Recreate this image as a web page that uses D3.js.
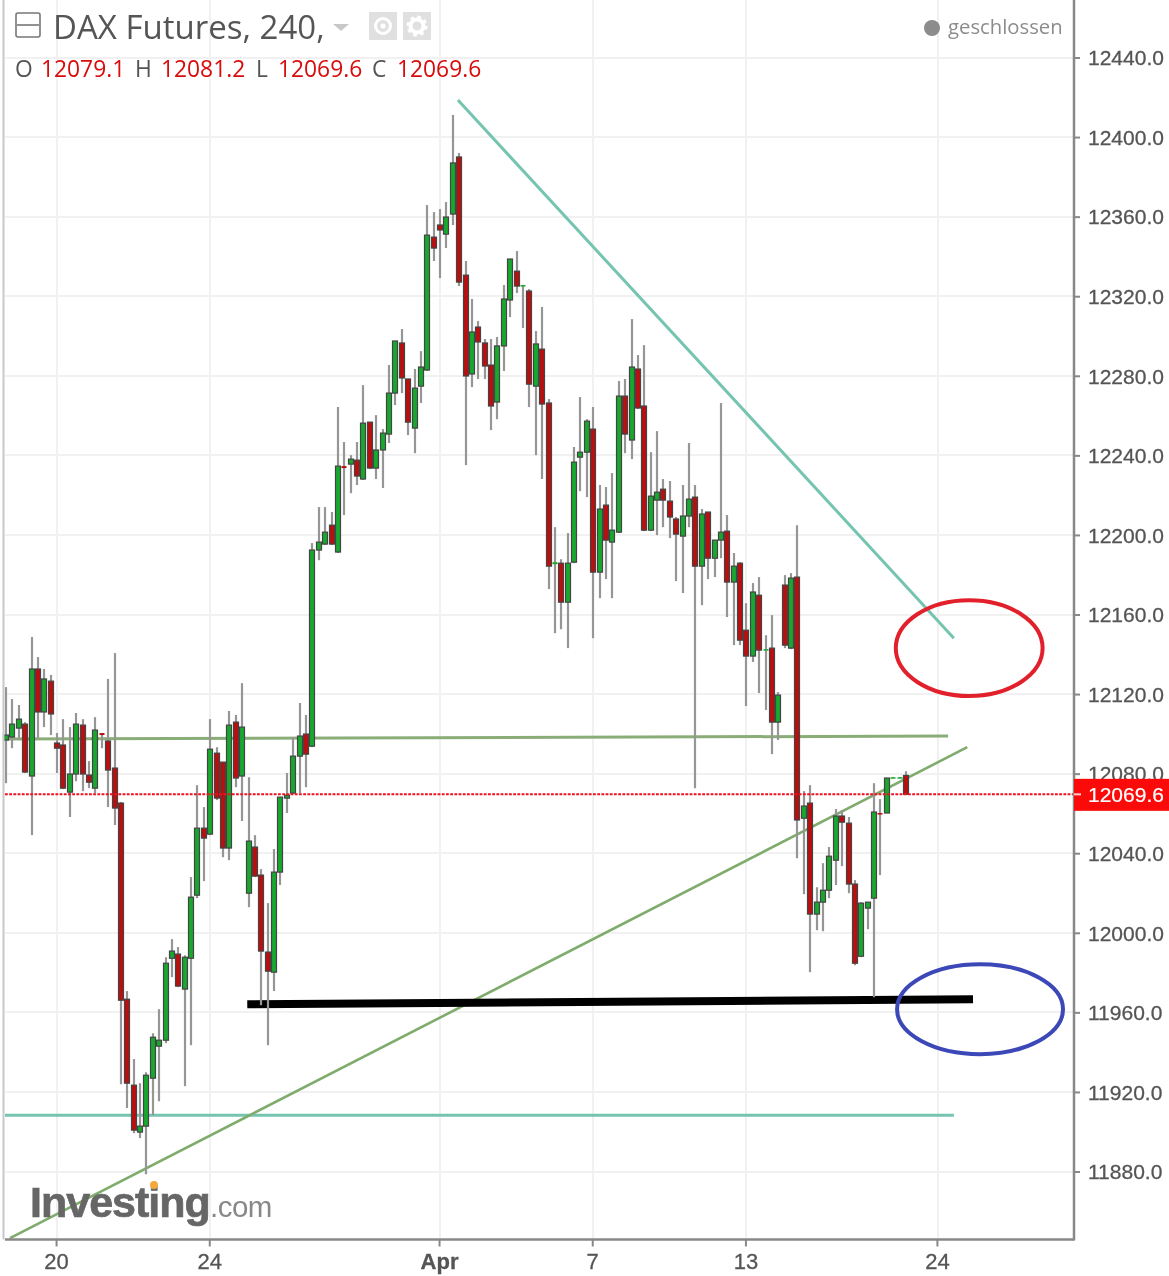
<!DOCTYPE html>
<html><head><meta charset="utf-8">
<script src="https://cdnjs.cloudflare.com/ajax/libs/d3/7.8.5/d3.min.js"></script>
<style>
html,body{margin:0;padding:0;background:#fff;overflow:hidden}
svg{display:block;filter:blur(0.5px)}
text{font-family:"Liberation Sans",sans-serif}
</style></head><body><div id="chart"></div>
<script>
const opens=[12096.9,12098.4,12102.9,12104.9,12078.8,12132.6,12111.0,12126.5,12095.4,12094.4,12070.7,12079.8,12104.4,12079.3,12072.7,12100.4,12096.4,12082.8,12065.2,11966.6,11923.4,11899.8,11902.8,11926.9,11943.0,11946.0,11987.2,11989.3,11971.7,11987.2,12018.9,12052.6,12049.6,12090.3,12085.8,12042.6,12105.9,12078.8,12019.9,12043.1,12029.0,11990.3,11980.2,12030.5,12067.7,12070.2,12088.8,12099.9,12093.8,12192.4,12195.4,12204.9,12191.4,12234.6,12235.6,12237.6,12228.1,12256.7,12233.6,12242.7,12250.7,12271.3,12296.5,12278.4,12253.7,12274.8,12282.9,12349.7,12355.8,12351.2,12361.3,12390.0,12330.6,12280.9,12304.5,12296.5,12285.4,12266.8,12295.0,12318.1,12332.6,12325.1,12322.6,12274.8,12293.4,12266.3,12185.3,12185.8,12166.2,12186.3,12239.1,12241.6,12253.2,12181.3,12215.0,12196.4,12201.4,12269.8,12247.7,12283.4,12264.8,12202.4,12217.5,12223.0,12217.0,12208.0,12199.4,12209.5,12219.0,12184.3,12211.5,12188.3,12197.4,12201.9,12176.3,12185.8,12152.1,12139.1,12169.7,12142.1,12143.1,12105.9,12174.8,12143.1,12178.8,12057.6,12065.2,12009.4,12015.4,12021.4,12036.5,12058.7,12055.1,12024.5,11988.2,12012.4,12017.4,12060.2,12060.2,12077.8,12078.0,12079.1];
const highs=[12123.5,12117.5,12114.5,12105.9,12148.7,12138.6,12132.6,12129.6,12100.4,12107.4,12103.4,12110.5,12107.4,12086.3,12108.4,12100.4,12127.6,12140.6,12065.7,11970.7,11936.5,11924.4,11929.9,11949.5,11961.6,11987.7,11996.8,11992.8,11988.7,12028.0,12074.2,12063.2,12107.4,12093.3,12085.8,12111.5,12109.5,12125.5,12078.2,12049.1,12032.0,12014.9,12042.1,12068.2,12080.3,12098.4,12115.5,12109.5,12195.9,12214.0,12214.0,12211.5,12264.3,12246.7,12240.1,12246.7,12275.3,12256.7,12260.2,12253.2,12285.4,12297.5,12303.5,12278.4,12283.4,12292.4,12365.8,12362.3,12363.8,12367.3,12411.1,12392.0,12337.7,12318.6,12307.5,12298.5,12298.5,12299.5,12325.6,12338.7,12342.7,12325.6,12323.6,12302.5,12314.6,12268.3,12203.9,12187.8,12200.9,12244.2,12269.3,12258.2,12264.3,12225.1,12224.1,12231.1,12277.4,12278.4,12308.5,12290.4,12295.4,12241.6,12252.2,12228.1,12227.1,12209.0,12225.1,12246.2,12225.1,12213.0,12211.5,12197.4,12266.3,12210.0,12190.9,12186.3,12165.7,12175.8,12178.8,12149.6,12159.7,12121.0,12179.8,12180.8,12204.9,12071.2,12074.2,12022.9,12035.0,12043.1,12062.2,12061.7,12058.2,12026.5,12015.4,12015.4,12075.2,12067.2,12077.8,12078.2,12078.2,12081.2];
const lows=[12075.2,12092.8,12096.9,12080.3,12049.1,12097.9,12103.4,12099.4,12080.3,12072.2,12058.2,12076.2,12071.2,12072.7,12070.2,12092.8,12063.2,12054.2,11923.9,11911.9,11899.3,11896.8,11878.6,11908.3,11915.3,11944.5,11977.7,11972.7,11922.9,11943.5,12017.4,12026.0,12049.1,12066.7,12038.0,12036.5,12073.2,12056.2,12012.9,12028.0,11963.6,11943.5,11970.7,12024.0,12060.2,12069.7,12070.2,12073.2,12093.3,12187.3,12194.9,12194.9,12190.9,12210.0,12221.0,12225.1,12227.6,12233.1,12228.1,12223.6,12246.2,12265.3,12271.3,12250.2,12241.1,12266.3,12282.4,12337.7,12329.1,12344.2,12355.8,12325.1,12235.1,12274.3,12278.4,12278.4,12252.7,12258.2,12282.4,12309.5,12321.6,12304.0,12264.3,12240.1,12228.1,12172.8,12150.6,12152.6,12143.1,12185.8,12222.0,12219.0,12148.1,12168.2,12177.8,12168.2,12200.9,12241.1,12238.1,12263.3,12201.9,12201.9,12199.9,12203.9,12198.4,12176.8,12170.8,12203.9,12072.7,12164.7,12177.8,12178.8,12188.3,12158.7,12144.6,12144.6,12114.0,12136.1,12120.5,12112.0,12089.8,12096.9,12143.1,12142.6,12037.5,12019.4,11980.2,12001.3,12000.8,12017.4,12024.0,12033.5,12019.9,11983.7,11987.7,12001.8,11967.6,12029.0,12060.2,12077.8,12077.8,12069.6];
const closes=[12099.4,12104.9,12107.4,12080.8,12132.6,12111.0,12127.6,12110.0,12092.8,12072.7,12079.8,12104.9,12079.8,12075.7,12101.9,12099.4,12081.8,12062.7,11966.1,11924.4,11900.8,11902.8,11928.4,11947.5,11946.0,11984.7,11990.8,11973.2,11987.7,12017.9,12052.6,12047.6,12092.3,12067.7,12042.6,12104.4,12077.8,12103.4,12046.1,12028.5,11990.8,11980.7,12030.5,12068.2,12069.2,12088.8,12098.9,12089.8,12192.4,12196.4,12201.4,12195.4,12234.6,12233.6,12238.1,12229.6,12256.2,12233.6,12242.7,12251.2,12271.3,12297.5,12278.9,12256.7,12273.8,12284.4,12350.7,12344.2,12353.3,12359.8,12387.0,12327.1,12279.9,12302.0,12297.0,12284.9,12264.8,12295.0,12318.6,12338.7,12325.1,12325.6,12275.8,12296.0,12265.8,12184.3,12186.3,12166.2,12185.8,12236.6,12241.6,12257.2,12181.3,12213.0,12197.4,12202.4,12269.8,12250.7,12284.4,12263.8,12202.4,12219.5,12221.5,12217.5,12209.0,12200.4,12209.5,12218.0,12184.3,12210.5,12188.3,12197.4,12201.4,12176.3,12184.3,12147.1,12139.1,12171.3,12142.1,12142.6,12105.9,12119.5,12144.6,12178.3,12056.7,12063.7,12009.4,12015.4,12021.4,12038.5,12058.7,12055.6,12024.5,11984.7,12014.9,12015.4,12060.7,12059.7,12077.8,12078.2,12078.2,12069.6];

const priceTicks=[11880,11920,11960,12000,12040,12080,12120,12160,12200,12240,12280,12320,12360,12400,12440];
const dateTickIndex=[8,32,68,92,116,146];
const dateTickLabels=["20","24","Apr","7","13","24"];

// drawn trend lines [index, price, index, price]
const tealFalling=[70.8,12418.6,148.5,12148.1];
const tealFlat=[-0.16,11908.3,148.5,11908.3];
const greenFlat=[-0.16,12097.4,147.6,12098.9];
const greenRising=[0.63,11846.5,150.6,12093.3];
const blackSupport=[37.8,11964.1,151.5,11966.6];
// hand-drawn circles [index, price, index radius, price radius]
const redCircle=[150.9,12143.1,11.5,24.1];
const blueCircle=[152.6,11961.6,13.0,22.6];

const lastPrice=12069.6;
const W=1169,H=1276,axisX=1074,axisY=1239.5;
const x=d3.scaleLinear().domain([0,141]).range([6,906]);
const y=d3.scaleLinear().domain([11880,12440]).range([1171.5,57.5]);
const svg=d3.select("#chart").append("svg").attr("width",W).attr("height",H);
svg.append("rect").attr("width",W).attr("height",H).attr("fill","#fff");

// grid
svg.append("g").selectAll("line").data(priceTicks).join("line")
 .attr("x1",5).attr("x2",axisX).attr("y1",d=>Math.round(y(d))).attr("y2",d=>Math.round(y(d)))
 .attr("stroke","#f1f1f1").attr("stroke-width",2);
svg.append("g").selectAll("line").data(dateTickIndex).join("line")
 .attr("x1",d=>Math.round(x(d))).attr("x2",d=>Math.round(x(d))).attr("y1",0).attr("y2",axisY)
 .attr("stroke","#f1f1f1").attr("stroke-width",2);

// trend lines
const seg=(a,c,w)=>svg.append("line").attr("x1",x(a[0])).attr("y1",y(a[1])).attr("x2",x(a[2])).attr("y2",y(a[3]))
 .attr("stroke",c).attr("stroke-width",w);
seg(greenFlat,"#8aad78",3);
seg(tealFlat,"#74c4b0",3);
seg(greenRising,"#7fac6c",2.6);
seg(tealFalling,"#74c4b0",3);
seg(blackSupport,"#000",8);
const circ=(a,c)=>svg.append("ellipse").attr("cx",x(a[0])).attr("cy",y(a[1]))
 .attr("rx",x(a[2])-x(0)).attr("ry",y(a[1]-a[3])-y(a[1]))
 .attr("fill","none").attr("stroke",c).attr("stroke-width",4);
circ(redCircle,"#e2202c");
circ(blueCircle,"#3c48b8");

// candles
const idx=d3.range(opens.length);
const g=svg.append("g");
g.selectAll("line").data(idx).join("line")
 .attr("x1",i=>Math.round(x(i))).attr("x2",i=>Math.round(x(i)))
 .attr("y1",i=>y(highs[i])).attr("y2",i=>y(lows[i]))
 .attr("stroke","#969696").attr("stroke-width",2.2);
g.selectAll("rect").data(idx).join("rect")
 .attr("x",i=>Math.round(x(i))-2.5).attr("width",5)
 .attr("y",i=>y(Math.max(opens[i],closes[i])))
 .attr("height",i=>Math.max(1.5,Math.abs(y(opens[i])-y(closes[i]))))
 .attr("fill",i=>closes[i]>=opens[i]?"#18a82e":"#bb0f0f")
 .attr("stroke",i=>Math.abs(y(opens[i])-y(closes[i]))<2.5?"none":"#444")
 .attr("stroke-width",1.2);

// last price line
svg.append("line").attr("x1",5).attr("x2",axisX).attr("y1",y(lastPrice)).attr("y2",y(lastPrice))
 .attr("stroke","#f01020").attr("stroke-width",2).attr("stroke-dasharray","2.8 1.4");

// axes
const yAxis=d3.axisRight(y).tickValues(priceTicks).tickFormat(d3.format(".1f")).tickSize(6).tickPadding(8);
const yg=svg.append("g").attr("transform",`translate(${axisX},0)`).call(yAxis);
yg.select(".domain").remove();
yg.selectAll(".tick line").attr("stroke","#888").attr("stroke-width",2);
yg.selectAll(".tick text").attr("fill","#555").attr("stroke","#555").attr("stroke-width",0.3).attr("font-size",21)
 .style("font-family",'"Liberation Sans",sans-serif').attr("y",0.6);
const xAxis=d3.axisBottom(x).tickValues(dateTickIndex).tickFormat((d,i)=>dateTickLabels[i]).tickSize(7).tickPadding(7);
const xg=svg.append("g").attr("transform",`translate(-1,${axisY})`).call(xAxis);
xg.select(".domain").remove();
xg.selectAll(".tick line").attr("stroke","#888").attr("stroke-width",2);
xg.selectAll(".tick text").attr("fill","#555").attr("stroke","#555").attr("stroke-width",0.3).attr("font-size",22).style("font-family",'"Liberation Sans",sans-serif')
 .attr("font-weight",(d,i)=>dateTickLabels[i]==="Apr"?"bold":"normal");
svg.append("line").attr("x1",axisX).attr("x2",axisX).attr("y1",0).attr("y2",axisY+1).attr("stroke","#888").attr("stroke-width",2.5);
svg.append("line").attr("x1",5).attr("x2",axisX).attr("y1",axisY).attr("y2",axisY).attr("stroke","#888").attr("stroke-width",2.5);
svg.append("line").attr("x1",3.5).attr("x2",3.5).attr("y1",0).attr("y2",axisY).attr("stroke","#c8c8cc").attr("stroke-width",2);

// price flag
svg.append("rect").attr("x",axisX).attr("width",W-axisX).attr("y",y(lastPrice)-15.5).attr("height",32).attr("fill","#fb0a0a");
svg.append("line").attr("x1",axisX).attr("x2",axisX+7).attr("y1",y(lastPrice)).attr("y2",y(lastPrice)).attr("stroke","#fbd0d0").attr("stroke-width",2);
svg.append("text").attr("x",1088).attr("y",y(lastPrice)+8).attr("fill","#fff").attr("font-size",21).attr("stroke","#fff").attr("stroke-width",0.2).text(d3.format(".1f")(lastPrice));

// header
const grayT="#555",redT="#d80c0c";
svg.append("rect").attr("x",16).attr("y",13).attr("width",24).attr("height",24).attr("rx",2).attr("fill","#fff").attr("stroke","#777").attr("stroke-width",1.6);
svg.append("line").attr("x1",17).attr("x2",39).attr("y1",25).attr("y2",25).attr("stroke","#777").attr("stroke-width",1.6);
svg.append("text").attr("x",53).attr("y",39).attr("fill",grayT).attr("font-size",33).style("font-family",'"Open Sans",sans-serif').text("DAX Futures, 240,");
svg.append("path").attr("d","M333 24L349 24L341 31Z").attr("fill","#c8c8c8");
svg.append("rect").attr("x",369).attr("y",12).attr("width",28).attr("height",28).attr("fill","#e0e0e0");
svg.append("circle").attr("cx",383).attr("cy",26).attr("r",7.5).attr("fill","none").attr("stroke","#fff").attr("stroke-width",3);
svg.append("circle").attr("cx",383).attr("cy",26).attr("r",2.5).attr("fill","#fff");
svg.append("rect").attr("x",403).attr("y",12).attr("width",28).attr("height",28).attr("fill","#e0e0e0");
svg.append("circle").attr("cx",417).attr("cy",26).attr("r",6.5).attr("fill","none").attr("stroke","#fff").attr("stroke-width",4);
svg.append("circle").attr("cx",417).attr("cy",26).attr("r",9).attr("fill","none").attr("stroke","#fff").attr("stroke-width",3).attr("stroke-dasharray","3.5 3.6");
const ohlc=[["O",15,41,"12079.1"],["H",135,161,"12081.2"],["L",256,278,"12069.6"],["C",372,397,"12069.6"]];
ohlc.forEach(d=>{
 svg.append("text").attr("x",d[1]).attr("y",77).attr("fill",grayT).attr("font-size",22.8).style("font-family",'"Open Sans",sans-serif').text(d[0]);
 svg.append("text").attr("x",d[2]).attr("y",77).attr("fill",redT).attr("font-size",22.8).style("font-family",'"Open Sans",sans-serif').text(d[3]);
});
svg.append("circle").attr("cx",932).attr("cy",28).attr("r",8).attr("fill","#8c8c8c");
svg.append("text").attr("x",948).attr("y",34).attr("fill","#8c8c8c").attr("font-size",20.3).style("font-family",'"Open Sans",sans-serif').text("geschlossen");

// watermark
svg.append("text").attr("x",30).attr("y",1217).attr("fill","#666").attr("stroke","#666").attr("stroke-width",0.7).attr("font-size",43).attr("font-weight","bold").attr("letter-spacing",-1).text("Investing");
svg.append("text").attr("x",210).attr("y",1217).attr("fill","#888").attr("font-size",29.5).attr("letter-spacing",-0.5).text(".com");
svg.append("circle").attr("cx",154).attr("cy",1185).attr("r",4).attr("fill","#f5a83c");
</script></body></html>
